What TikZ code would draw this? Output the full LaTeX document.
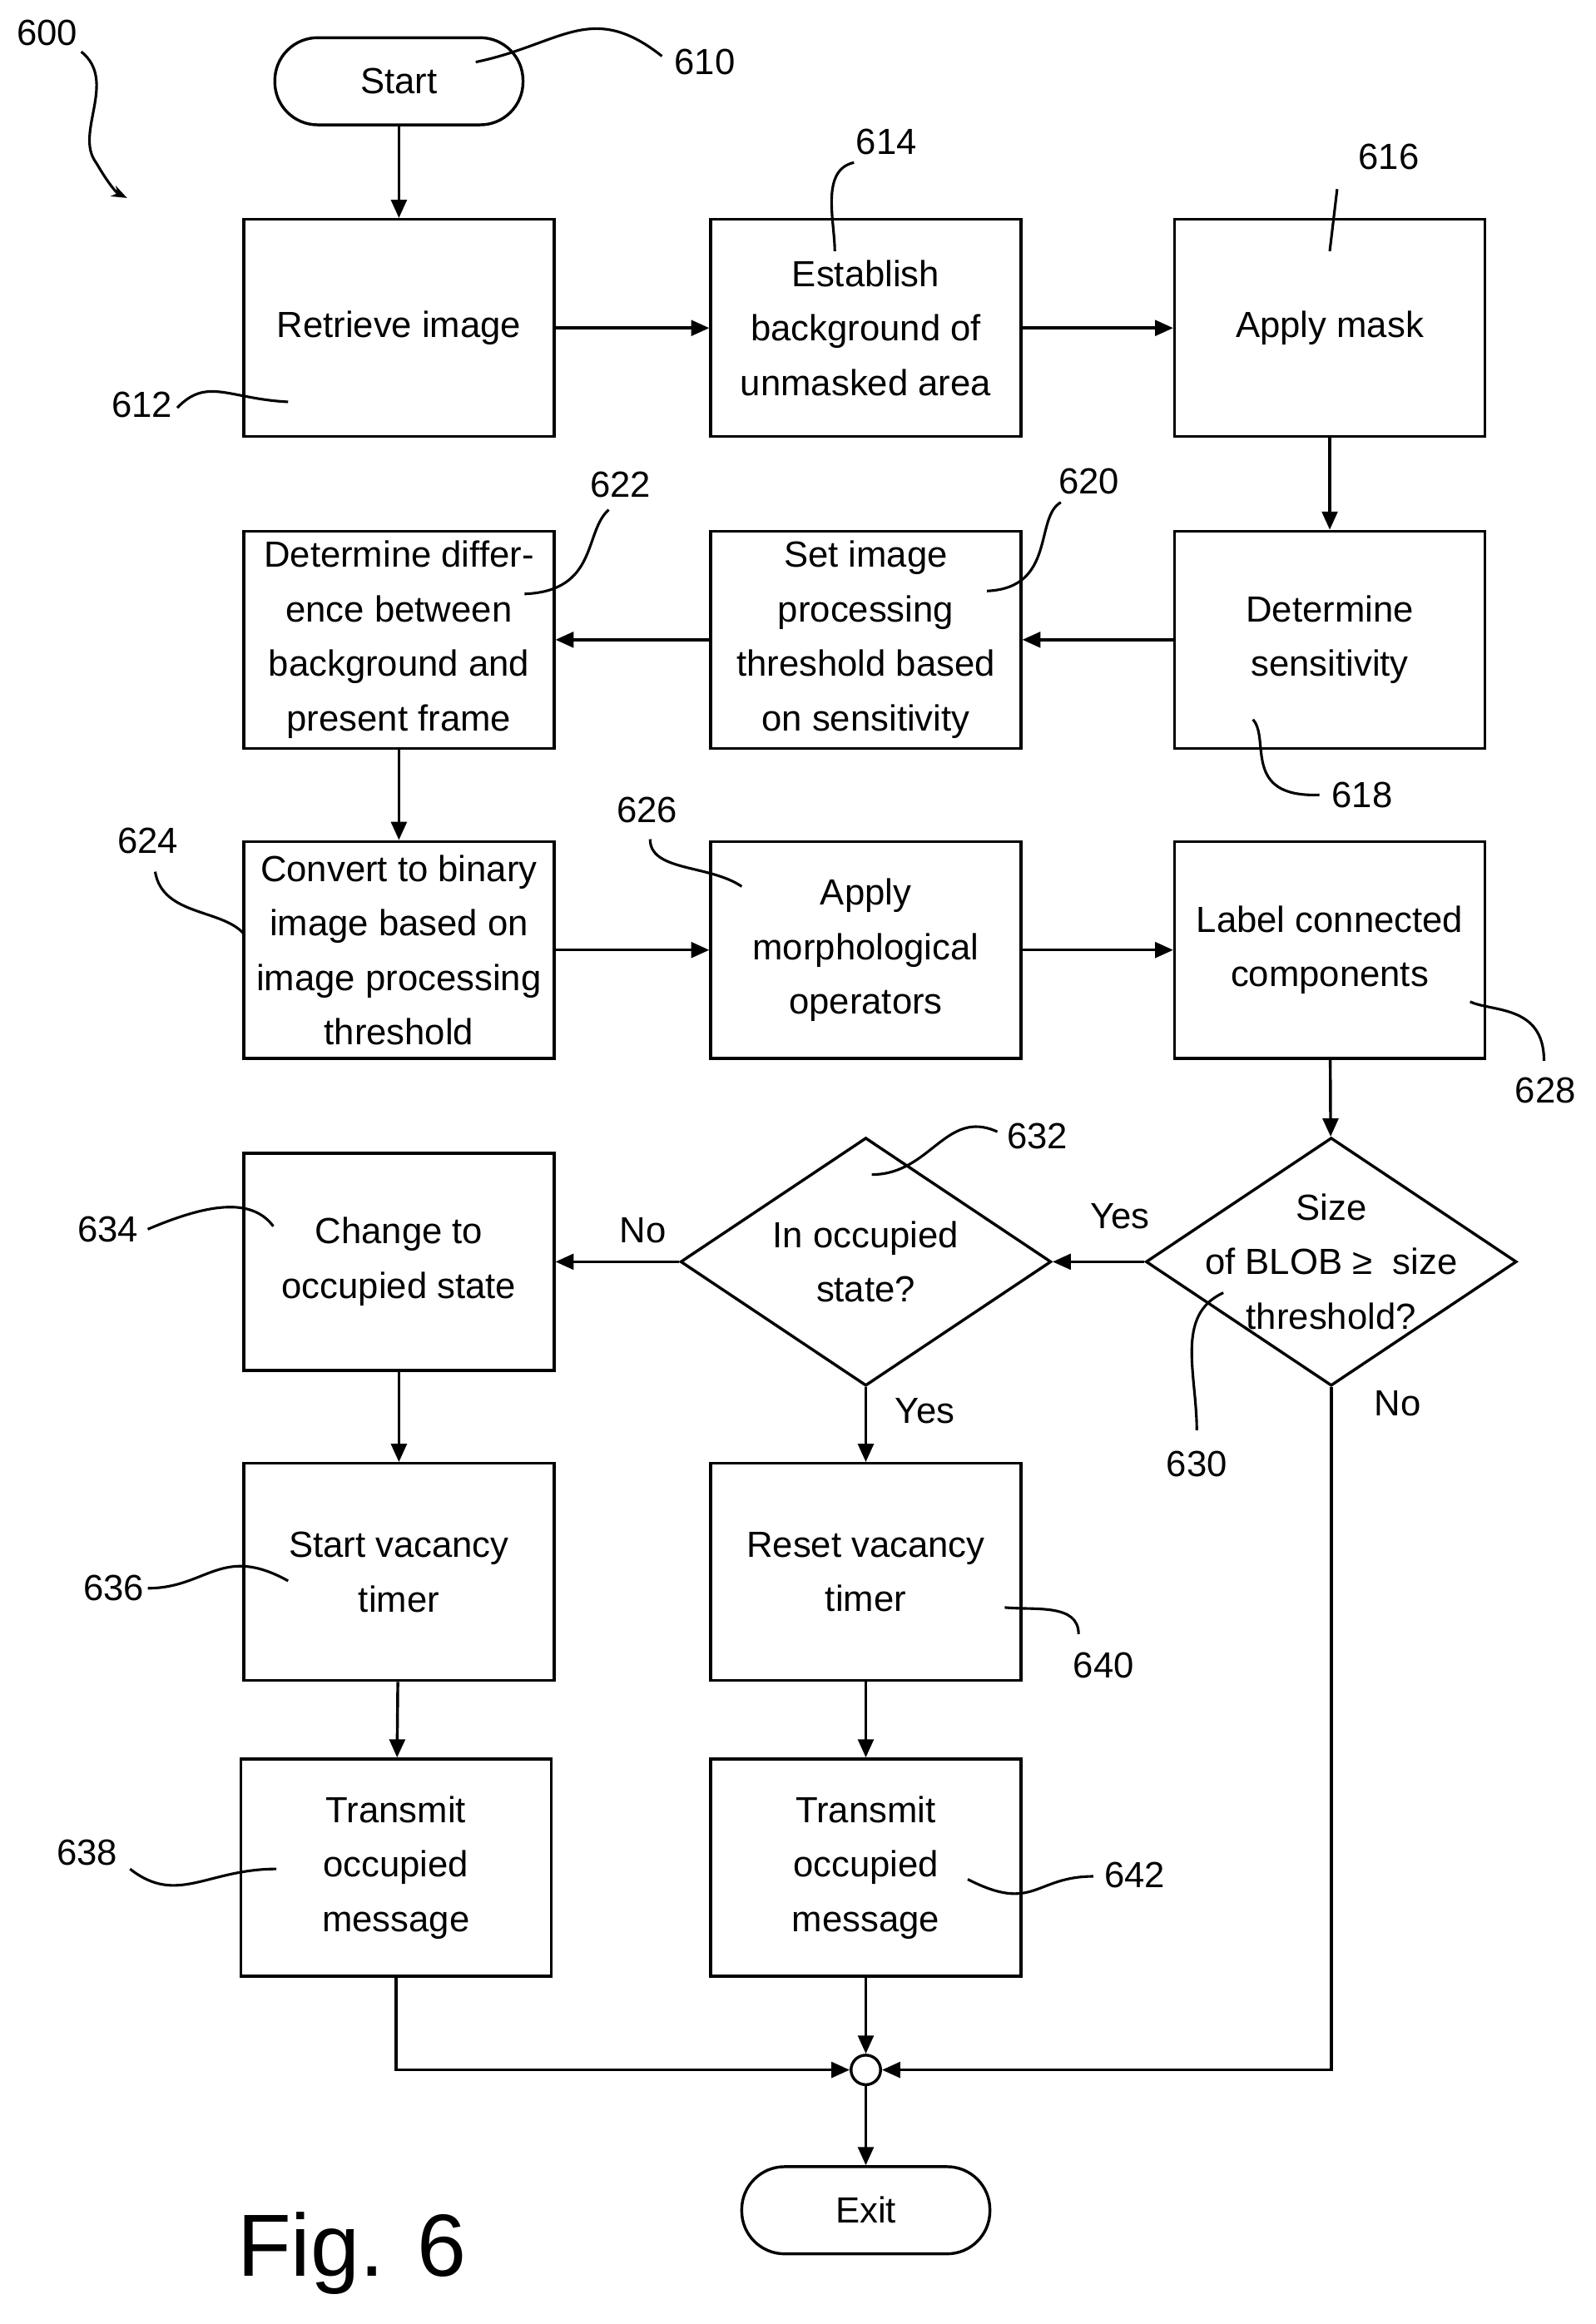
\documentclass[tikz,border=0pt]{standalone}
\usepackage{fontspec}
\setmainfont{Liberation Sans}
\usetikzlibrary{shapes.geometric,arrows.meta}
\begin{document}
\begin{tikzpicture}[x=0.02cm,y=-0.02cm,
  font=\fontsize{14}{21}\selectfont,
  box/.style={draw,line width=1.1pt,minimum width=4.2cm,minimum height=2.94cm,align=center,inner sep=2pt},
  term/.style={draw,line width=1.1pt,rounded corners=0.58cm,minimum width=3.36cm,minimum height=1.18cm},
  dia/.style={draw,line width=1.1pt,diamond,minimum width=5.02cm,minimum height=3.36cm,inner sep=0pt},
  dtext/.style={align=center,inner sep=0pt},
  arr/.style={line width=1.1pt,-{Triangle[length=7pt,width=6pt]}},
  sq/.style={line width=1pt},
  lab/.style={font=\fontsize{14}{17}\selectfont}]
\useasboundingbox (0,0) rectangle (1080,1573);
\node[term] (start) at (270,55) {Start};
\node[box] (b612) at (270,222) {Retrieve image};
\node[box] (b614) at (586,222) {Establish\\background of\\unmasked area};
\node[box] (b616) at (900,222) {Apply mask};
\node[box] (b618) at (900,433) {Determine\\sensitivity};
\node[box] (b620) at (586,433) {Set image\\processing\\threshold based\\on sensitivity};
\node[box] (b622) at (270,433) {Determine differ-\\ence between\\background and\\present frame};
\node[box] (b624) at (270,643) {Convert to binary\\image based on\\image processing\\threshold};
\node[box] (b626) at (586,643) {Apply\\morphological\\operators};
\node[box] (b628) at (900,643) {Label connected\\components};
\node[dia] (d630) at (901,854) {};
\node[dtext] (t630) at (901,854) {Size\\of BLOB ≥\ \ size\\threshold?};
\node[dia] (d632) at (586,854) {};
\node[dtext] (t632) at (586,854) {In occupied\\state?};
\node[box] (b634) at (270,854) {Change to\\occupied state};
\node[box] (b636) at (270,1064) {Start vacancy\\timer};
\node[box] (b640) at (586,1064) {Reset vacancy\\timer};
\node[box] (b638) at (268,1264) {Transmit\\occupied\\message};
\node[box] (b642) at (586,1264) {Transmit\\occupied\\message};
\node[draw,circle,line width=1.1pt,minimum size=0.4cm,inner sep=0pt] (j) at (586,1401) {};
\node[term] (exit) at (586,1496) {Exit};
\node[font=\fontsize{34}{36}\selectfont] (fig) at (238,1525) {Fig. 6};

\draw[arr] (start) -- (b612);
\draw[arr] (b612) -- (b614);
\draw[arr] (b614) -- (b616);
\draw[arr] (b616) -- (b618);
\draw[arr] (b618) -- (b620);
\draw[arr] (b620) -- (b622);
\draw[arr] (b622) -- (b624);
\draw[arr] (b624) -- (b626);
\draw[arr] (b626) -- (b628);
\draw[arr] (b628) -- (d630);
\draw[arr] (d630.west) -- (d632.east);
\draw[arr] (d632.west) -- (b634);
\draw[arr] (d632.south) -- (b640);
\draw[arr] (b634) -- (b636);
\draw[arr] (b636) -- (b638);
\draw[arr] (b640) -- (b642);
\draw[arr] (b638.south) |- (j.west);
\draw[arr] (b642) -- (j);
\draw[arr] (d630.south) |- (j.east);
\draw[arr] (j) -- (exit);

\node[lab] at (435,833) {No};
\node[lab] at (758,823) {Yes};
\node[lab] at (626,955) {Yes};
\node[lab] at (946,950) {No};

\node[lab] (l600) at (32,22) {600};
\draw[sq,-{Stealth[length=6pt]}] (55,35) .. controls (80,55) and (50,90) .. (65,110) .. controls (72,122) and (78,130) .. (86,134);
\node[lab] (l610) at (477,42) {610};
\draw[sq] (448,38) .. controls (400,0) and (380,30) .. (322,42);
\node[lab] (l614) at (600,96) {614};
\draw[sq] (578,110) .. controls (555,115) and (565,150) .. (565,170);
\node[lab] (l616) at (940,106) {616};
\draw[sq] (905,128) -- (900,170);
\node[lab] (l612) at (96,274) {612};
\draw[sq] (120,276) .. controls (140,255) and (155,270) .. (195,272);
\node[lab] (l622) at (420,328) {622};
\draw[sq] (412,345) .. controls (395,360) and (405,400) .. (355,402);
\node[lab] (l620) at (737,326) {620};
\draw[sq] (718,340) .. controls (700,350) and (715,398) .. (668,400);
\node[lab] (l618) at (922,538) {618};
\draw[sq] (893,538) .. controls (840,540) and (860,500) .. (848,487);
\node[lab] (l624) at (100,569) {624};
\draw[sq] (105,590) .. controls (110,620) and (150,615) .. (165,632);
\node[lab] (l626) at (438,548) {626};
\draw[sq] (440,568) .. controls (440,590) and (480,585) .. (502,600);
\node[lab] (l628) at (1046,738) {628};
\draw[sq] (1045,718) .. controls (1045,680) and (1010,685) .. (995,678);
\node[lab] (l632) at (702,769) {632};
\draw[sq] (675,766) .. controls (640,750) and (630,795) .. (590,795);
\node[lab] (l630) at (810,991) {630};
\draw[sq] (810,968) .. controls (810,930) and (795,890) .. (828,875);
\node[lab] (l634) at (73,832) {634};
\draw[sq] (100,832) .. controls (140,815) and (170,810) .. (185,830);
\node[lab] (l636) at (77,1075) {636};
\draw[sq] (100,1075) .. controls (140,1075) and (150,1045) .. (195,1070);
\node[lab] (l640) at (747,1127) {640};
\draw[sq] (730,1106) .. controls (730,1085) and (700,1090) .. (680,1088);
\node[lab] (l638) at (59,1254) {638};
\draw[sq] (88,1265) .. controls (120,1290) and (140,1265) .. (187,1265);
\node[lab] (l642) at (768,1269) {642};
\draw[sq] (740,1270) .. controls (700,1270) and (700,1295) .. (655,1272);
\end{tikzpicture}
\end{document}
